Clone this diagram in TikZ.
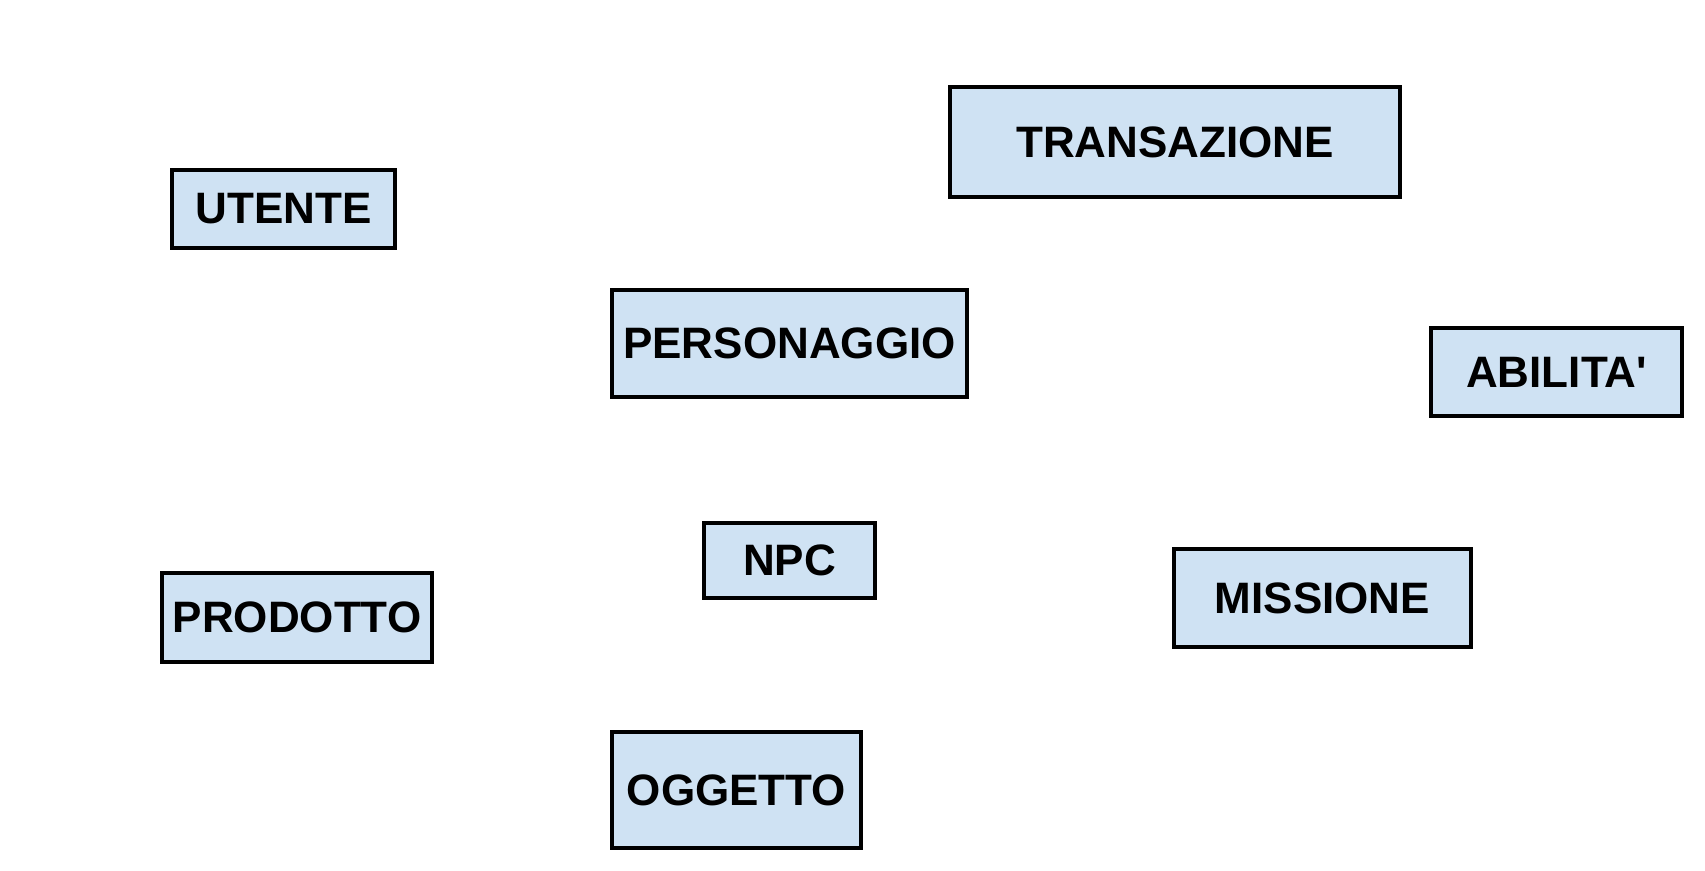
\documentclass[tikz,border=0pt]{standalone}
\usepackage{fontspec}
\setmainfont{Liberation Sans}
\definecolor{boxfill}{HTML}{CFE2F3}
\begin{document}
\begin{tikzpicture}[x=1pt,y=-1pt,
  entity/.style={draw=black,line width=3.2pt,fill=boxfill,inner sep=0pt,
    font=\fontsize{44}{50}\selectfont\bfseries,text=black}]
\useasboundingbox (0,0) rectangle (1705,870);
\fill[white] (0,0) rectangle (1705,870);
\node[entity,minimum width=450pt,minimum height=110pt] (trans) at (1175,142) {TRANSAZIONE};
\node[entity,minimum width=223pt,minimum height=78pt] (utente) at (283.5,209) {UTENTE};
\node[entity,minimum width=355pt,minimum height=107pt] (pers) at (789.5,343.5) {PERSONAGGIO};
\node[entity,minimum width=251pt,minimum height=88pt] (abil) at (1556.5,372) {ABILITA\textquotesingle};
\node[entity,minimum width=171pt,minimum height=75pt] (npc) at (789.5,560.5) {NPC};
\node[entity,minimum width=297pt,minimum height=98pt] (miss) at (1322.5,598) {MISSIONE};
\node[entity,minimum width=270pt,minimum height=89pt] (prod) at (297,617.5) {PRODOTTO};
\node[entity,minimum width=249pt,minimum height=116pt] (ogg) at (736.5,790) {OGGETTO};
\end{tikzpicture}
\end{document}
